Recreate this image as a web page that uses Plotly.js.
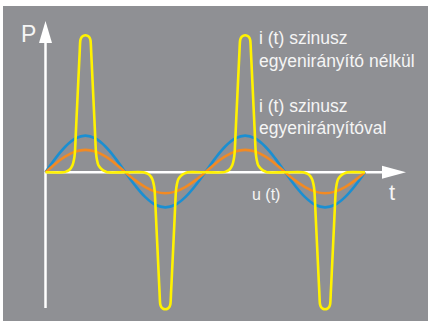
<!DOCTYPE html>
<html>
<head>
<meta charset="utf-8">
<script src="https://cdn.plot.ly/plotly-3.0.1.min.js"></script>
<style>
  html, body { margin: 0; padding: 0; background: #ffffff; }
  #chart { width: 428px; height: 322px; }
</style>
</head>
<body>
<div id="chart"></div>
<script>
// phase in degrees, two full periods of the mains voltage
const sineX = [0, 22.5, 45, 67.5, 90, 112.5, 135, 157.5, 180, 202.5, 225, 247.5, 270, 292.5, 315, 337.5,
  360, 382.5, 405, 427.5, 450, 472.5, 495, 517.5, 540, 562.5, 585, 607.5, 630, 652.5, 675, 697.5, 720];

// current without rectifier (blue)
const blueY = [0, 1.02, 1.88, 2.47, 2.68, 2.47, 1.88, 1.02, 0, -0.98, -1.81, -2.37, -2.56, -2.37, -1.81, -0.98,
  0, 1.02, 1.88, 2.47, 2.68, 2.47, 1.88, 1.02, 0, -0.98, -1.81, -2.37, -2.56, -2.37, -1.81, -0.98, 0];

// current with rectifier (orange)
const orangeY = [0, 0.63, 1.16, 1.52, 1.64, 1.52, 1.16, 0.63, 0, -0.59, -1.08, -1.41, -1.53, -1.41, -1.08, -0.59,
  0, 0.63, 1.16, 1.52, 1.64, 1.52, 1.16, 0.63, 0, -0.59, -1.08, -1.41, -1.53, -1.41, -1.08, -0.59, 0];

// pulsed current (yellow)
const yellowX = [0,
  40, 46, 52, 57, 61, 64, 66, 68, 70, 72.5, 75, 77, 78.5, 80, 82, 85, 90, 95, 98, 100, 101.5, 103, 105, 107.5, 110, 112, 114, 116, 119, 124, 130, 136, 140,
  180,
  220, 226, 232, 237, 241, 244, 246, 248, 250, 252.5, 255, 257, 258.5, 260, 262, 265, 270, 275, 278, 280, 281.5, 283, 285, 287.5, 290, 292, 294, 296, 299, 304, 310, 316, 320,
  360,
  400, 406, 412, 417, 421, 424, 426, 428, 430, 432.5, 435, 437, 438.5, 440, 442, 445, 450, 455, 458, 460, 461.5, 463, 465, 467.5, 470, 472, 474, 476, 479, 484, 490, 496, 500,
  540,
  580, 586, 592, 597, 601, 604, 606, 608, 610, 612.5, 615, 617, 618.5, 620, 622, 625, 630, 635, 638, 640, 641.5, 643, 645, 647.5, 650, 652, 654, 656, 659, 664, 670, 676, 680,
  720];
const yellowY = [0,
  0, 0.05, 0.14, 0.3, 0.53, 0.9, 1.35, 2.6, 4.0, 5.7, 7.4, 8.75, 9.62, 9.78, 9.88, 9.96, 10, 9.96, 9.88, 9.78, 9.62, 8.75, 7.4, 5.7, 4.0, 2.6, 1.35, 0.9, 0.53, 0.3, 0.14, 0.05, 0,
  0,
  0, -0.05, -0.14, -0.3, -0.53, -0.9, -1.35, -2.6, -4.0, -5.7, -7.4, -8.75, -9.62, -9.78, -9.88, -9.96, -10, -9.96, -9.88, -9.78, -9.62, -8.75, -7.4, -5.7, -4.0, -2.6, -1.35, -0.9, -0.53, -0.3, -0.14, -0.05, 0,
  0,
  0, 0.05, 0.14, 0.3, 0.53, 0.9, 1.35, 2.6, 4.0, 5.7, 7.4, 8.75, 9.62, 9.78, 9.88, 9.96, 10, 9.96, 9.88, 9.78, 9.62, 8.75, 7.4, 5.7, 4.0, 2.6, 1.35, 0.9, 0.53, 0.3, 0.14, 0.05, 0,
  0,
  0, -0.05, -0.14, -0.3, -0.53, -0.9, -1.35, -2.6, -4.0, -5.7, -7.4, -8.75, -9.62, -9.78, -9.88, -9.96, -10, -9.96, -9.88, -9.78, -9.62, -8.75, -7.4, -5.7, -4.0, -2.6, -1.35, -0.9, -0.53, -0.3, -0.14, -0.05, 0,
  0];

const labelLines = ['i (t) szinusz', 'egyenirányító nélkül', 'i (t) szinusz', 'egyenirányítóval'];

// pixel -> data helpers (origin of the drawn axes sits at 45.5, 172.3)
const toX = p => (p - 45.5) * 2.2535;
const toY = p => (172.3 - p) / 13.7;

const line = (y, color) => ({
  x: sineX, y: y, type: 'scatter', mode: 'lines', hoverinfo: 'skip', showlegend: false,
  line: { color: color, width: 2.6, shape: 'spline', smoothing: 1 }
});

const traces = [
  line(blueY, '#1b8fd2'),
  line(orangeY, '#f28a23'),
  {
    x: yellowX, y: yellowY, type: 'scatter', mode: 'lines', hoverinfo: 'skip', showlegend: false,
    line: { color: '#fff200', width: 2.6, shape: 'spline', smoothing: 0.8 }
  }
];

const txt = '#f5f5f5';
const font = (size) => ({ family: '"Liberation Sans", Arial, Helvetica, sans-serif', size: size, color: txt });

const annotations = [
  { x: toX(28), y: toY(34), text: 'P', font: font(23), xanchor: 'center', yanchor: 'middle' },
  { x: toX(391.5), y: toY(192), text: 't', font: font(22), xanchor: 'center', yanchor: 'middle' },
  { x: toX(265.5), y: toY(194), text: 'u (t)', font: font(16), xanchor: 'center', yanchor: 'middle' }
];
[38, 61, 106, 128].forEach((py, i) => {
  annotations.push({ x: toX(257), y: toY(py), text: labelLines[i], font: font(17.5), xanchor: 'left', yanchor: 'middle' });
});
annotations.forEach(a => { a.showarrow = false; a.xref = 'x'; a.yref = 'y'; });

const axisColor = '#ffffff';
const shapes = [
  // vertical axis + arrow
  { type: 'line', layer: 'below', x0: 0, x1: 0, y0: toY(308), y1: toY(42), line: { color: axisColor, width: 2.5 } },
  { type: 'path', layer: 'below', path: `M ${toX(39)},${toY(43)} L ${toX(52)},${toY(43)} L ${toX(45.5)},${toY(21)} Z`,
    fillcolor: axisColor, line: { width: 0 } },
  // horizontal axis + arrow
  { type: 'line', layer: 'below', x0: 0, x1: toX(384), y0: 0, y1: 0, line: { color: axisColor, width: 2.5 } },
  { type: 'path', layer: 'below', path: `M ${toX(382)},${toY(165.8)} L ${toX(382)},${toY(178.8)} L ${toX(406)},0 Z`,
    fillcolor: axisColor, line: { width: 0 } }
];

const hidden = { showgrid: false, zeroline: false, showticklabels: false, ticks: '', showline: false, fixedrange: true };

const layout = {
  width: 428,
  height: 322,
  margin: { l: 3, r: 0, t: 6, b: 1, pad: 0 },
  paper_bgcolor: '#ffffff',
  plot_bgcolor: '#8f9094',
  showlegend: false,
  xaxis: Object.assign({ range: [toX(3), toX(428)] }, hidden),
  yaxis: Object.assign({ range: [toY(321), toY(6)] }, hidden),
  shapes: shapes,
  annotations: annotations
};

Plotly.newPlot('chart', traces, layout, { displayModeBar: false, staticPlot: true });
</script>
</body>
</html>
